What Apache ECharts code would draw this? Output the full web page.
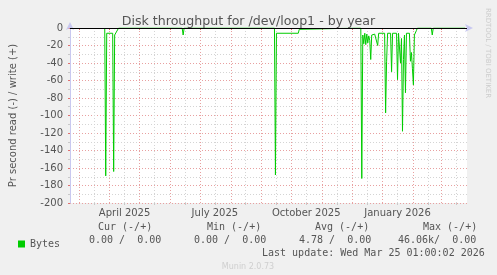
<!DOCTYPE html>
<html><head><meta charset="utf-8">
<script src="https://cdn.jsdelivr.net/npm/echarts@6/dist/echarts.min.js"></script>
<style>html,body{margin:0;padding:0;background:#f0f0f0}#c{width:497px;height:275px}</style>
</head><body><div id="c"></div>
<script>
// ---- data ----
const readDates = [
  '2025-03-27','2025-03-28','2025-03-29','2025-04-04','2025-04-05','2025-04-06','2025-04-10',
  '2025-06-13','2025-06-14','2025-06-15',
  '2025-09-14','2025-09-15','2025-09-16','2025-10-08','2025-10-09','2025-10-10',
  '2025-12-10','2025-12-11','2025-12-12','2025-12-13','2025-12-14','2025-12-15','2025-12-16',
  '2025-12-17','2025-12-18','2025-12-19','2025-12-20','2025-12-21','2025-12-22','2025-12-23',
  '2025-12-24','2025-12-25','2025-12-26','2025-12-27','2025-12-28','2026-01-03',
  '2026-01-04','2026-01-05','2026-01-06','2026-01-09','2026-01-10','2026-01-11','2026-01-15',
  '2026-01-16','2026-01-17','2026-01-18','2026-01-19','2026-01-20','2026-01-21','2026-01-22',
  '2026-01-23','2026-01-24','2026-01-25','2026-01-28','2026-01-29','2026-01-30','2026-01-31',
  '2026-02-01','2026-02-02','2026-02-03','2026-02-04','2026-02-05',
  '2026-02-19','2026-02-20','2026-02-21','2026-03-25'
];
const readValues = [
  0,-169,-6,-6,-164,-8,0,
  0,-8,0,
  0,-168,-6,-6,-1.5,0,
  0,-172,-8,-18,-6,-19,-7,
  -17,-9,-14,-36,-8,-6,-9,
  -7,-9,-8,-20,-6,-6,
  -97,-38,-6,-6,-50,-6,-6,
  -59,-6,-8,-40,-12,-118,-36,
  -8,-74,-6,-6,-38,-28,-46,
  -65,-8,-6,-3,0,
  0,-8,0,0
];
const xStart = '2025-02-20';
const xEnd = '2026-03-27';
const monthStarts = ['2025-03-01','2025-04-01','2025-05-01','2025-06-01','2025-07-01','2025-08-01',
  '2025-09-01','2025-10-01','2025-11-01','2025-12-01','2026-01-01','2026-02-01','2026-03-01'];
const midMonths = ['2025-03-16','2025-04-16','2025-05-16','2025-06-16','2025-07-16','2025-08-16',
  '2025-09-16','2025-10-16','2025-11-16','2025-12-16','2026-01-16','2026-02-16','2026-03-16'];
const labelDates = ['2025-04-16','2025-07-16','2025-10-16','2026-01-16'];
const labelTexts = ['April 2025','July 2025','October 2025','January 2026'];
const yMin = -200, yMax = 0, yStep = 20;
const seriesName = 'Bytes';
const legendHeaders = ['Cur (-/+)','Min (-/+)','Avg (-/+)','Max (-/+)'];
const legendValues = ['0.00 /  0.00','0.00 /  0.00','4.78 /  0.00','46.06k/  0.00'];
const lastUpdate = 'Last update: Wed Mar 25 01:00:02 2026';

// ---- helpers ----
function ts(s){ const p = s.split('-').map(Number); return Date.UTC(p[0], p[1]-1, p[2]); }
const data = readDates.map((d,i)=>[ts(d), readValues[i]]);
const labelTs = labelDates.map(ts);
const xMin = ts(xStart), xMax = ts(xEnd);

const chart = echarts.init(document.getElementById('c'), null, {renderer:'canvas'});
const mono = '"DejaVu Sans Mono", monospace';
const sans = '"DejaVu Sans", sans-serif';
const red = '#e8a0a0', gray = '#d4d4d4', axisC = '#c8c8f0';

const headerX = [98, 207, 315, 423];
const valueX = [89, 194, 299, 398];
const graphics = [];
legendHeaders.forEach((t,i)=>graphics.push({type:'text', x:headerX[i], y:227, style:{text:t, font:'10px '+mono, fill:'#555', verticalAlign:'middle'}}));
legendValues.forEach((t,i)=>graphics.push({type:'text', x:valueX[i], y:240, style:{text:t, font:'10px '+mono, fill:'#555', verticalAlign:'middle'}}));
graphics.push({type:'text', x:262, y:253, style:{text:lastUpdate, font:'10px '+mono, fill:'#555', verticalAlign:'middle'}});
graphics.push({type:'text', x:248, y:267, style:{text:'Munin 2.0.73', font:'8px '+sans, fill:'#cfcfcf', align:'center', verticalAlign:'middle'}});
graphics.push({type:'text', x:488, y:53, rotation:-Math.PI/2, style:{text:'RRDTOOL / TOBI OETIKER', font:'7px '+sans, fill:'#cccccc', align:'center', verticalAlign:'middle'}});

chart.setOption({
  animation:false,
  backgroundColor:'#f0f0f0',
  title:{text:'Disk throughput for /dev/loop1 - by year', left:'center', top:10,
    textStyle:{fontFamily:sans, fontSize:12.6, fontWeight:'normal', color:'#555'}},
  legend:{data:[seriesName], left:13, top:234, icon:'rect', itemWidth:7, itemHeight:7, itemGap:5,
    textStyle:{fontFamily:mono, fontSize:10, color:'#555'}},
  grid:{left:67, top:28, width:400, height:175, show:true, backgroundColor:'#fff', borderWidth:0, containLabel:false},
  xAxis:[{
    type:'value', min:xMin, max:xMax, scale:true,
    axisLine:{show:true, lineStyle:{color:axisC}, symbol:['none','arrow'], symbolSize:[6,8], symbolOffset:[0,6]},
    axisTick:{show:true, customValues:monthStarts.map(ts), length:2, lineStyle:{color:'#e07070'}},
    axisLabel:{customValues:labelTs, color:'#555', fontSize:10, fontFamily:sans, margin:5,
      formatter:function(v){ const i = labelTs.findIndex(t=>Math.abs(t-v)<86400000); return i>=0?labelTexts[i]:''; }},
    splitLine:{show:true, lineStyle:{color:red, type:[1,2], width:1}}
  },{
    type:'value', min:xMin, max:xMax, scale:true, position:'bottom',
    axisLine:{show:false}, axisLabel:{show:false},
    axisTick:{show:true, customValues:midMonths.map(ts), length:2, lineStyle:{color:'#c8c8c8'}},
    splitLine:{show:true, lineStyle:{color:gray, type:[1,2], width:1}}
  }],
  yAxis:{
    type:'value', min:yMin, max:yMax, interval:yStep,
    axisLine:{show:true, lineStyle:{color:axisC}, symbol:['none','arrow'], symbolSize:[6,8], symbolOffset:[0,6]},
    axisTick:{show:true, length:2, lineStyle:{color:'#e07070'}},
    minorTick:{show:true, splitNumber:2, length:2, lineStyle:{color:'#c8c8c8'}},
    axisLabel:{color:'#555', fontSize:10, fontFamily:sans, margin:7},
    splitLine:{show:true, lineStyle:{color:red, type:[1,2], width:1}},
    minorSplitLine:{show:true, lineStyle:{color:gray, type:[1,2], width:1}},
    name:'Pr second read (-) / write (+)', nameLocation:'middle', nameGap:52,
    nameTextStyle:{color:'#555', fontSize:10, fontFamily:sans}
  },
  series:[{
    name:seriesName, type:'line', data:data, showSymbol:false, symbol:'none',
    lineStyle:{color:'#00cc00', width:1}, itemStyle:{color:'#00cc00'}, z:3,
    markLine:{silent:true, symbol:'none', label:{show:false}, z:5,
      lineStyle:{color:'#000', width:1, type:'solid'}, data:[{yAxis:0}]}
  }],
  graphic:graphics
});
</script></body></html>
